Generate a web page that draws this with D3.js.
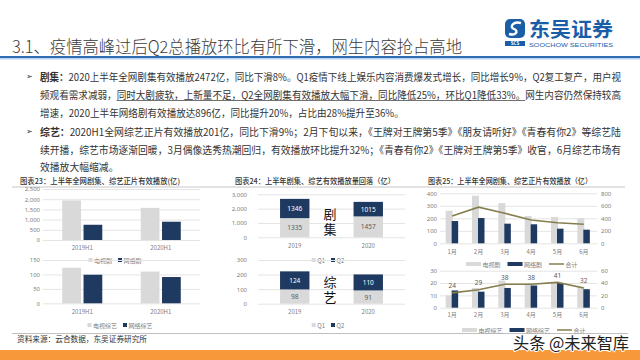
<!DOCTYPE html>
<html>
<head>
<meta charset="utf-8">
<script src="https://cdn.jsdelivr.net/npm/d3@7"></script>
<style>
  body { margin: 0; background: #fff; }
  svg { display: block; font-family: "Noto Sans CJK SC", "Noto Sans", sans-serif; }
</style>
</head>
<body>
<svg id="slide" width="640" height="360"></svg>
<script>
// ---- data ----
const halfYears = ["2019H1", "2020H1"];
const dramaTv = [1940, 1576];
const dramaNet = [747, 896];
const varietyTv = [123, 110];
const varietyNet = [99, 91];

const years = ["2019", "2020"];
const dramaQ1 = [1335, 1457];
const dramaQ2 = [1346, 1015];
const varietyQ1 = [98, 91];
const varietyQ2 = [124, 110];

const months = ["1月", "2月", "3月", "4月", "5月", "6月"];
const monthDramaTv = [261, 381, 322, 218, 210, 200];
const monthDramaNet = [178, 202, 157, 152, 117, 109];
const monthDramaTotal = [437, 578, 480, 372, 330, 305];
const monthVarietyTv = [10, 16, 22, 20, 21, 17];
const monthVarietyNet = [14, 13, 16, 18, 20, 15];
const monthVarietyTotal = [24, 29, 38, 38, 41, 32];

const titleText = "3.1、疫情高峰过后Q2总播放环比有所下滑，网生内容抢占高地";
const bodyLines = [
  {y: 76, bullet: true, full: true, pieces: [{t: "剧集：", b: true}, {t: "2020上半年全网剧集有效播放2472亿，同比下滑8%。Q1疫情下线上娱乐内容消费爆发式增长，同比增长9%，Q2复工复产，用户视"}]},
  {y: 94, full: true, pieces: [{t: "频观看需求减弱，"}, {t: "同时大剧疲软，上新量不足，Q2全网剧集有效播放大幅下滑，同比降低25%，环比Q1降低33%。", u: true}, {t: "网生内容仍然保持较高"}]},
  {y: 112, pieces: [{t: "增速，2020上半年网络剧有效播放达896亿，同比提升20%，占比由28%提升至36%。"}]},
  {y: 131, bullet: true, full: true, pieces: [{t: "综艺：", b: true}, {t: "2020H1全网综艺正片有效播放201亿，同比下滑9%；2月下旬以来，《王牌对王牌第5季》《朋友请听好》《青春有你2》等综艺陆"}]},
  {y: 149, full: true, pieces: [{t: "续开播，综艺市场逐渐回暖，3月偶像选秀热潮回归，有效播放环比提升32%；《青春有你2》《王牌对王牌第5季》收官，6月综艺市场有"}]},
  {y: 166, pieces: [{t: "效播放大幅缩减。"}]}
];

const GRAY = "#d9d9d9", NAVY = "#1f3a60", OLIVE = "#867e4e";
const AXIS_TEXT = "#808080", GRID = "#e4e4e4";

const svg = d3.select("#slide");

// ---- header ----
svg.append("text")
  .attr("x", 12).attr("y", 53)
  .attr("font-size", 17).attr("font-weight", 300).attr("fill", "#3a3a3a")
  .attr("textLength", 450).attr("lengthAdjust", "spacingAndGlyphs")
  .text(titleText);

svg.append("rect").attr("x", 0).attr("y", 56).attr("width", 640).attr("height", 2).attr("fill", "#2f6db3");
svg.append("rect").attr("x", 0).attr("y", 58).attr("width", 640).attr("height", 1.5).attr("fill", "#bcd4ee");

// logo
const logo = svg.append("g");
logo.append("rect").attr("x", 505).attr("y", 19).attr("width", 20).attr("height", 19).attr("rx", 5).attr("fill", "#1a5ea8");
logo.append("path")
  .attr("d", "M521,23 C513,21 509,27 514,29 C519,31 516,36 509,34")
  .attr("fill", "none").attr("stroke", "#fff").attr("stroke-width", 2.4);
logo.append("rect").attr("x", 505).attr("y", 41).attr("width", 20).attr("height", 5).attr("fill", "#1a5ea8");
logo.append("text").attr("x", 515).attr("y", 45.3).attr("text-anchor", "middle")
  .attr("font-size", 4.5).attr("font-weight", 700).attr("fill", "#fff").text("SCS");
logo.append("text").attr("x", 529).attr("y", 37)
  .attr("font-size", 20).attr("font-weight", 700).attr("fill", "#1a5ea8")
  .attr("textLength", 84).attr("lengthAdjust", "spacingAndGlyphs").text("东吴证券");
logo.append("text").attr("x", 529).attr("y", 46.5)
  .attr("font-family", "Liberation Sans, sans-serif")
  .attr("font-size", 6).attr("fill", "#1a5ea8")
  .attr("textLength", 84).attr("lengthAdjust", "spacingAndGlyphs").text("SOOCHOW SECURITIES");

// ---- body text ----
const TEXT_LEFT = 40, TEXT_RIGHT = 621;
let lastK = 1;
bodyLines.forEach(line => {
  const g = svg.append("g");
  if (line.bullet) {
    g.append("text").attr("x", 26).attr("y", line.y).attr("dominant-baseline", "central")
      .attr("font-family", "DejaVu Sans").attr("font-size", 8).attr("fill", "#333").text("➢");
  }
  const texts = line.pieces.map(p => g.append("text")
    .attr("y", line.y).attr("dominant-baseline", "central")
    .attr("font-size", 10).attr("font-weight", p.b ? 700 : 400).attr("fill", "#333")
    .text(p.t));
  const widths = texts.map(t => t.node().getComputedTextLength());
  const k = line.full ? (TEXT_RIGHT - TEXT_LEFT) / d3.sum(widths) : lastK;
  lastK = k;
  let x = TEXT_LEFT;
  texts.forEach((t, i) => {
    const w = widths[i] * k;
    t.attr("x", x).attr("textLength", w).attr("lengthAdjust", "spacingAndGlyphs");
    if (line.pieces[i].u) {
      g.append("line").attr("x1", x).attr("x2", x + w)
        .attr("y1", line.y + 6.5).attr("y2", line.y + 6.5)
        .attr("stroke", "#333").attr("stroke-width", 0.7);
    }
    x += w;
  });
});

// ---- chart helpers ----
function grid(g, y, x0, x1, ticks, labelRight) {
  g.append("g").attr("transform", `translate(${x0},0)`)
    .call(d3.axisLeft(y).tickValues(ticks).tickSize(-(x1 - x0)).tickPadding(x0 - labelRight))
    .call(a => a.select(".domain").remove())
    .call(a => a.selectAll(".tick line").attr("stroke", GRID))
    .call(a => a.selectAll(".tick text").attr("fill", AXIS_TEXT).attr("font-size", 6)
      .attr("font-family", '"Noto Sans", sans-serif'));
}
function rightAxis(g, y, x, ticks) {
  g.append("g").attr("transform", `translate(${x},0)`)
    .call(d3.axisRight(y).tickValues(ticks).tickSize(0).tickPadding(4))
    .call(a => a.select(".domain").remove())
    .call(a => a.selectAll(".tick text").attr("fill", AXIS_TEXT).attr("font-size", 6)
      .attr("font-family", '"Noto Sans", sans-serif'));
}
function xLabels(g, x, yPos) {
  g.append("g").attr("transform", `translate(0,${yPos})`)
    .call(d3.axisBottom(x).tickSize(0).tickPadding(0))
    .call(a => a.select(".domain").remove())
    .call(a => a.selectAll(".tick text").attr("fill", AXIS_TEXT).attr("font-size", 6)
      .attr("dy", "0.32em").attr("font-family", '"Noto Sans CJK SC", sans-serif'));
}
function legend(g, items, {x, y, anchor = "middle", sw = 4, sh = 4, gap = 6, fs = 6}) {
  const lg = g.append("g");
  let cx = 0;
  items.forEach(it => {
    if (it.line) {
      lg.append("line").attr("x1", cx).attr("x2", cx + sw).attr("y1", 0).attr("y2", 0)
        .attr("stroke", it.color).attr("stroke-width", 1.5);
    } else {
      lg.append("rect").attr("x", cx).attr("y", -sh / 2).attr("width", sw).attr("height", sh).attr("fill", it.color);
    }
    cx += sw + 1.5;
    const t = lg.append("text").attr("x", cx).attr("y", 0).attr("dominant-baseline", "central")
      .attr("font-size", fs).attr("fill", AXIS_TEXT).text(it.label);
    cx += t.node().getComputedTextLength() + gap;
  });
  const w = cx - gap;
  lg.insert("rect", ":first-child").attr("x", -3).attr("y", -4.5).attr("width", w + 6).attr("height", 9).attr("fill", "#fff");
  lg.attr("transform", `translate(${anchor === "middle" ? x - w / 2 : x},${y})`);
}
function chartTitle(x, text, len) {
  svg.append("text").attr("x", x).attr("y", 180).attr("dominant-baseline", "central")
    .attr("font-size", 7.5).attr("font-weight", 500).attr("fill", "#333")
    .attr("textLength", len).attr("lengthAdjust", "spacingAndGlyphs").text(text);
}

// titles and separator
chartTitle(20, "图表23：上半年全网剧集、综艺正片有效播放(亿)", 160);
chartTitle(235, "图表24：上半年剧集、综艺有效播放量回落（亿）", 160);
chartTitle(428, "图表25：上半年全网剧集、综艺正片有效播放（亿）", 164);
svg.append("line").attr("x1", 12).attr("x2", 625).attr("y1", 187).attr("y2", 187)
  .attr("stroke", "#b8b8b8").attr("stroke-width", 0.8);

// ---- chart 23: grouped bars ----
function groupedBars(tv, net, yDomain, yRange, ticks, labelY) {
  const g = svg.append("g");
  const x = d3.scaleBand(halfYears, [43, 200]).paddingInner(0.49).paddingOuter(0.245);
  const inner = d3.scaleBand(["tv", "net"], [0, x.bandwidth()]).paddingInner(0.12);
  const y = d3.scaleLinear(yDomain, yRange);
  grid(g, y, 43, 200, ticks, 40);
  const rows = halfYears.map((c, i) => ({c, tv: tv[i], net: net[i]}));
  [["tv", GRAY], ["net", NAVY]].forEach(([key, color]) => {
    g.selectAll(null).data(rows).join("rect")
      .attr("x", d => x(d.c) + inner(key)).attr("width", inner.bandwidth())
      .attr("y", d => y(d[key])).attr("height", d => y(0) - y(d[key]))
      .attr("fill", color);
  });
  xLabels(g, x, labelY);
  return g;
}
const a1 = groupedBars(dramaTv, dramaNet, [0, 2500], [240, 189], d3.range(0, 2501, 500), 248);
const a2 = groupedBars(varietyTv, varietyNet, [0, 150], [303.3, 260], d3.range(0, 151, 50), 311.7);
legend(a1, [{label: "电视剧", color: GRAY}, {label: "网络剧", color: NAVY}], {x: 115, y: 260});
legend(a2, [{label: "电视综艺", color: GRAY}, {label: "网络综艺", color: NAVY}], {x: 120, y: 325});

// ---- chart 24: stacked bars ----
function stackedBars(q1, q2, yDomain, yRange, ticks, labelY, bigText, bigY) {
  const g = svg.append("g");
  const x = d3.scaleBand(years, [258, 405]).paddingInner(0.6).paddingOuter(0.3);
  const y = d3.scaleLinear(yDomain, yRange);
  grid(g, y, 258, 405, ticks, 247);
  const rows = years.map((c, i) => ({c, Q1: q1[i], Q2: q2[i]}));
  const series = d3.stack().keys(["Q1", "Q2"])(rows);
  const colors = {Q1: GRAY, Q2: NAVY};
  const textColors = {Q1: "#595959", Q2: "#fff"};
  series.forEach(s => {
    g.selectAll(null).data(s).join("rect")
      .attr("x", d => x(d.data.c)).attr("width", x.bandwidth())
      .attr("y", d => y(d[1])).attr("height", d => y(d[0]) - y(d[1]))
      .attr("fill", colors[s.key]);
    g.selectAll(null).data(s).join("text")
      .attr("x", d => x(d.data.c) + x.bandwidth() / 2).attr("y", d => y((d[0] + d[1]) / 2))
      .attr("text-anchor", "middle").attr("dominant-baseline", "central")
      .attr("font-family", '"Noto Sans", sans-serif').attr("font-size", 6.5)
      .attr("fill", textColors[s.key]).text(d => d.data[s.key]);
  });
  xLabels(g, x, labelY);
  bigText.forEach((ch, i) => g.append("text").attr("x", 330).attr("y", bigY[i])
    .attr("text-anchor", "middle").attr("dominant-baseline", "central")
    .attr("font-size", 13).attr("fill", "#111").text(ch));
  return g;
}
const b1 = stackedBars(dramaQ1, dramaQ2, [0, 3000], [237.3, 194.3], d3.range(0, 3001, 1000), 245.7, ["剧", "集"], [213.5, 228]);
const b2 = stackedBars(varietyQ1, varietyQ2, [0, 300], [303.7, 260], d3.range(0, 301, 100), 311.7, ["综", "艺"], [281.5, 296]);
legend(b1, [{label: "Q1", color: GRAY}, {label: "Q2", color: NAVY}], {x: 328, y: 260});
legend(b2, [{label: "Q1", color: GRAY}, {label: "Q2", color: NAVY}], {x: 328, y: 325});

// ---- chart 25: bars + total line on right axis ----
function comboChart(tv, net, total, yDomain, yRDomain, yRange, ticks, ticksR, labelY, showValues) {
  const g = svg.append("g");
  const x = d3.scaleBand(months, [439, 597]);
  const cx = m => x(m) + x.bandwidth() / 2;
  const y = d3.scaleLinear(yDomain, yRange);
  const yR = d3.scaleLinear(yRDomain, yRange);
  grid(g, y, 440, 597, ticks, 437);
  rightAxis(g, yR, 597, ticksR);
  const rows = months.map((m, i) => ({m, tv: tv[i], net: net[i], total: total[i]}));
  const barW = 7;
  g.selectAll(null).data(rows).join("rect")
    .attr("x", d => cx(d.m) - barW + 0.5).attr("width", barW)
    .attr("y", d => y(d.tv)).attr("height", d => y(0) - y(d.tv)).attr("fill", GRAY);
  g.selectAll(null).data(rows).join("rect")
    .attr("x", d => cx(d.m) - 0.5).attr("width", barW - 0.5)
    .attr("y", d => y(d.net)).attr("height", d => y(0) - y(d.net)).attr("fill", NAVY);
  g.append("path").datum(rows)
    .attr("d", d3.line().x(d => cx(d.m)).y(d => yR(d.total)))
    .attr("fill", "none").attr("stroke", OLIVE).attr("stroke-width", 1.6);
  if (showValues) {
    g.selectAll(null).data(rows).join("text")
      .attr("x", d => cx(d.m)).attr("y", d => yR(d.total) - 7)
      .attr("text-anchor", "middle").attr("dominant-baseline", "central")
      .attr("font-family", '"Noto Sans", sans-serif').attr("font-size", 6.5)
      .attr("fill", "#595959").text(d => d.total);
  }
  xLabels(g, x, labelY);
  return g;
}
const c1 = comboChart(monthDramaTv, monthDramaNet, monthDramaTotal, [0, 400], [0, 800], [243.3, 193.3],
  d3.range(0, 401, 100), d3.range(0, 801, 200), 252, false);
const c2 = comboChart(monthVarietyTv, monthVarietyNet, monthVarietyTotal, [0, 30], [0, 60], [307.7, 270.7],
  d3.range(0, 31, 10), d3.range(0, 61, 20), 315, true);
legend(c1, [{label: "电视剧", color: GRAY}, {label: "网络剧", color: NAVY}, {label: "合计", color: OLIVE, line: true}],
  {x: 466, y: 264, anchor: "start", sw: 15, sh: 4, gap: 7});
legend(c2, [{label: "电视综艺", color: GRAY}, {label: "网络综艺", color: NAVY}, {label: "合计", color: OLIVE, line: true}],
  {x: 462, y: 330, anchor: "start", sw: 15, sh: 4, gap: 7});

// ---- footer ----
svg.append("line").attr("x1", 12).attr("x2", 628).attr("y1", 333.5).attr("y2", 333.5)
  .attr("stroke", "#b0b0b0").attr("stroke-width", 0.8);
svg.append("text").attr("x", 17).attr("y", 338).attr("dominant-baseline", "central")
  .attr("font-size", 8).attr("fill", "#333")
  .attr("textLength", 130).attr("lengthAdjust", "spacingAndGlyphs")
  .text("资料来源：云合数据，东吴证券研究所");
svg.append("rect").attr("x", 0).attr("y", 350).attr("width", 640).attr("height", 10).attr("fill", "#f7993b");
svg.append("text").attr("x", 513).attr("y", 342).attr("dominant-baseline", "central")
  .attr("font-size", 16).attr("fill", "#222")
  .attr("stroke", "#fff").attr("stroke-width", 2).attr("paint-order", "stroke")
  .attr("textLength", 116).attr("lengthAdjust", "spacingAndGlyphs")
  .text("头条 @未来智库");
</script>
</body>
</html>
